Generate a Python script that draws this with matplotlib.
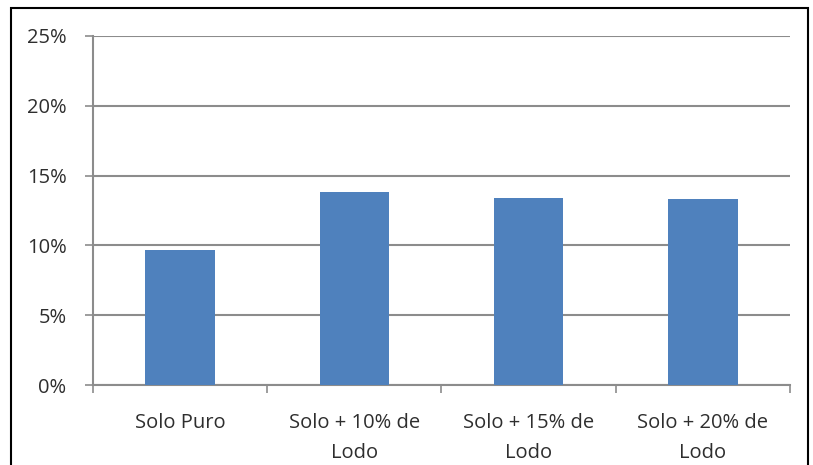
import matplotlib
matplotlib.use("Agg")
import matplotlib.pyplot as plt
from matplotlib.patches import Rectangle
from matplotlib.ticker import FixedLocator, PercentFormatter

categories = ["Solo Puro", "Solo + 10% de\nLodo", "Solo + 15% de\nLodo", "Solo + 20% de\nLodo"]
values = [9.7, 13.8, 13.4, 13.3]
y_ticks = [0, 5, 10, 15, 20, 25]

plt.rcParams['font.family'] = ['Open Sans', 'DejaVu Sans']

fig = plt.figure(figsize=(8.13, 4.65), dpi=100)
fig.patch.set_facecolor('white')
ax = fig.add_axes([0.1144, 0.172, 0.8573, 0.7506])

x = list(range(len(categories)))
ax.bar(x, values, width=0.4, color='#4F81BD', zorder=3)

ax.set_xlim(-0.5, len(categories) - 0.5)
ax.set_ylim(0, 25)
ax.set_yticks(y_ticks)
ax.yaxis.set_major_formatter(PercentFormatter(decimals=0))
ax.grid(axis='y', color='#8C8C8C', linewidth=1.5, zorder=0)

ax.set_xticks(x)
ax.set_xticklabels(categories, fontsize=14.5, color='#2E2E2E', linespacing=1.7)
ax.xaxis.set_minor_locator(FixedLocator([i - 0.5 for i in range(len(categories) + 1)]))
ax.tick_params(axis='x', which='major', length=0, pad=20)
ax.tick_params(axis='x', which='minor', length=6, color='#8C8C8C', width=1.2)
ax.tick_params(axis='y', length=6, color='#8C8C8C', width=1.2, labelsize=14.5, labelcolor='#2E2E2E', pad=13)

for s in ['top', 'right']:
    ax.spines[s].set_visible(False)
for s in ['left', 'bottom']:
    ax.spines[s].set_color('#8C8C8C')
    ax.spines[s].set_linewidth(1.5)

fig.patches.append(Rectangle((0.013, -0.05), 0.981, 1.033, transform=fig.transFigure,
                             fill=False, edgecolor='black', linewidth=1.5, zorder=10))

fig.savefig("out.png", dpi=100, facecolor='white')
